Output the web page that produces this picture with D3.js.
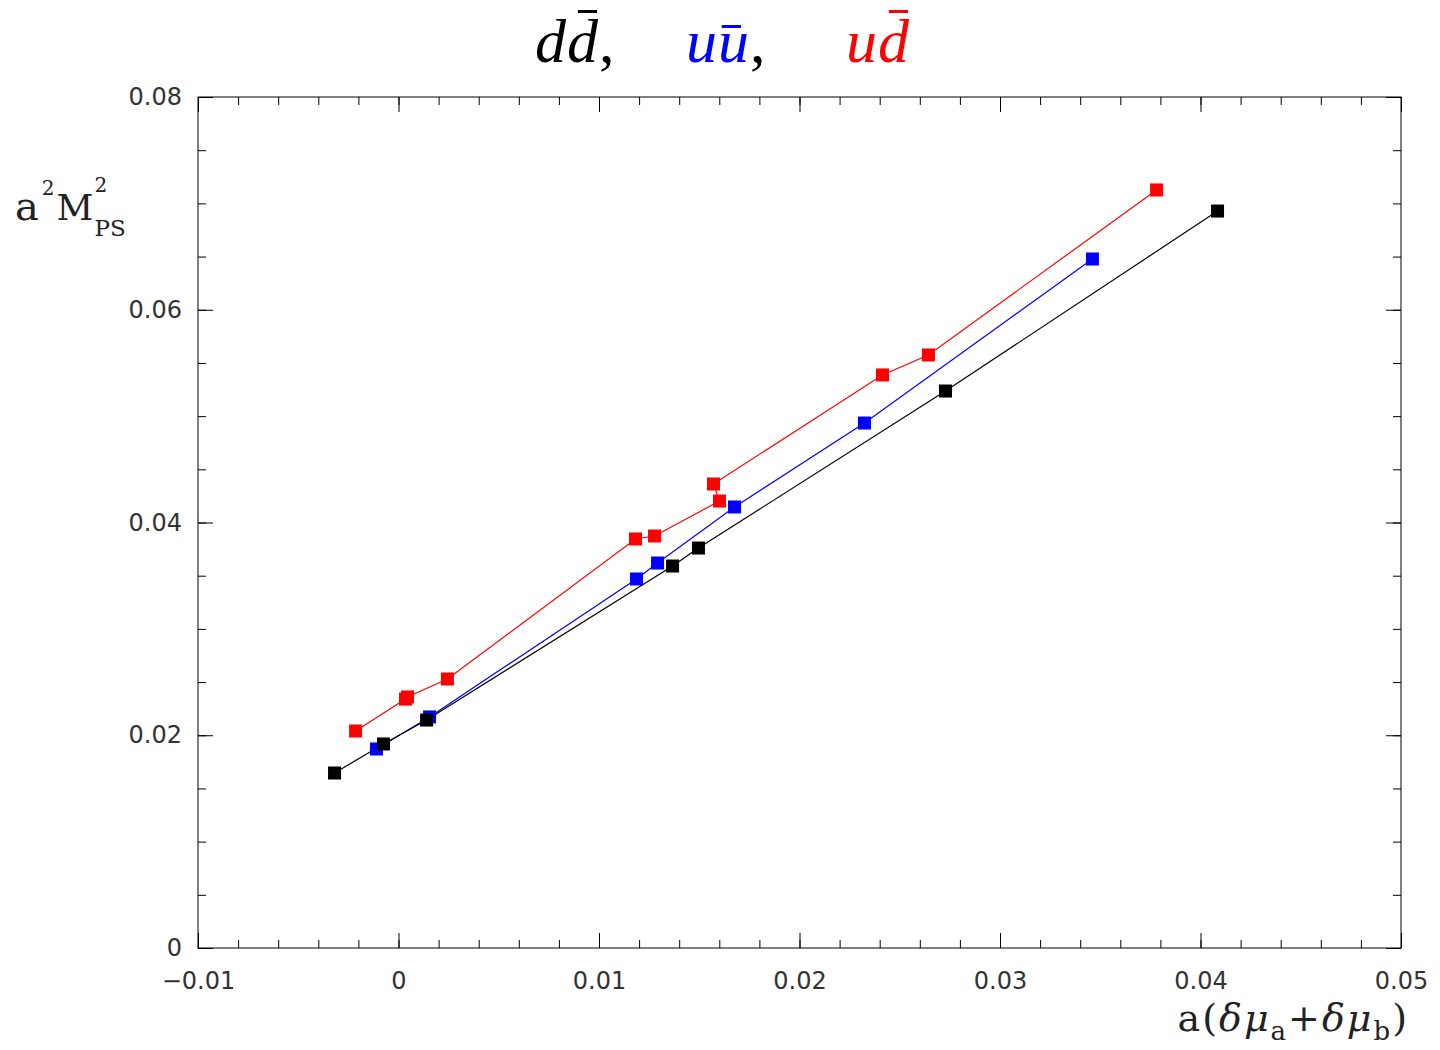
<!DOCTYPE html>
<html>
<head>
<meta charset="utf-8">
<script src="https://cdn.jsdelivr.net/npm/d3@7"></script>
<style>
  body { margin: 0; background: #fff; }
  .tick text { font-family: "DejaVu Sans", sans-serif; font-size: 24px; fill: #333; }
</style>
</head>
<body>
<script>
// values
const ddbarX = [-0.00319, -0.00075, 0.0014, 0.01367, 0.01496, 0.02728, 0.04085];
const ddbarY = [0.01645, 0.01918, 0.02143, 0.03591, 0.03760, 0.05236, 0.06928];

const uubarX = [-0.0011, 0.00155, 0.01187, 0.01292, 0.01676, 0.02324, 0.03461];
const uubarY = [0.01871, 0.02172, 0.03469, 0.03619, 0.04146, 0.04935, 0.06477];

const udbarX = [-0.00214, 0.00035, 0.00045, 0.00244, 0.01182, 0.01277, 0.01601, 0.01571, 0.02414, 0.02643, 0.03781];
const udbarY = [0.0204, 0.0234, 0.0236, 0.02529, 0.03845, 0.03873, 0.04202, 0.04362, 0.05387, 0.05575, 0.07126];

const xMajorTicks = [-0.01, 0, 0.01, 0.02, 0.03, 0.04, 0.05];
const yMajorTicks = [0, 0.02, 0.04, 0.06, 0.08];

const width = 1440, height = 1050;
const margin = { top: 97, right: 39, bottom: 102, left: 198 };

const svg = d3.select("body").append("svg")
    .attr("width", width)
    .attr("height", height);

const x = d3.scaleLinear()
    .domain([-0.01, 0.05])
    .range([margin.left, width - margin.right]);
const y = d3.scaleLinear()
    .domain([0, 0.08])
    .range([height - margin.bottom, margin.top]);

const xMinor = d3.range(-0.01, 0.0501, 0.002).map(v => +v.toFixed(4));
const yMinor = d3.range(0, 0.0801, 0.005).map(v => +v.toFixed(4));

const fmtX = d => d === 0 ? "0" : d3.format(".2f")(d).replace("-", "\u2212");
const fmtY = d => d === 0 ? "0" : d3.format(".2f")(d);

// ticks pointing inward on all four sides
function tickGroup(axis, transform) {
    const g = svg.append("g").attr("transform", transform).call(axis);
    g.select(".domain").remove();
    g.selectAll(".tick line").attr("stroke", "#000").attr("stroke-width", 1);
    return g;
}

const bottomY = height - margin.bottom, topY = margin.top;
const leftX = margin.left, rightX = width - margin.right;

tickGroup(d3.axisBottom(x).tickValues(xMinor).tickSize(-8).tickFormat(""), `translate(0,${bottomY})`);
tickGroup(d3.axisBottom(x).tickValues(xMajorTicks).tickSize(-15).tickPadding(24).tickFormat(fmtX), `translate(0,${bottomY})`);
tickGroup(d3.axisTop(x).tickValues(xMinor).tickSize(-8).tickFormat(""), `translate(0,${topY})`);
tickGroup(d3.axisTop(x).tickValues(xMajorTicks).tickSize(-15).tickFormat(""), `translate(0,${topY})`);

tickGroup(d3.axisLeft(y).tickValues(yMinor).tickSize(-8).tickFormat(""), `translate(${leftX},0)`);
tickGroup(d3.axisLeft(y).tickValues(yMajorTicks).tickSize(-15).tickPadding(16).tickFormat(fmtY), `translate(${leftX},0)`);
tickGroup(d3.axisRight(y).tickValues(yMinor).tickSize(-8).tickFormat(""), `translate(${rightX},0)`);
tickGroup(d3.axisRight(y).tickValues(yMajorTicks).tickSize(-15).tickFormat(""), `translate(${rightX},0)`);

// frame
svg.append("rect")
    .attr("x", leftX).attr("y", topY)
    .attr("width", rightX - leftX).attr("height", bottomY - topY)
    .attr("fill", "none").attr("stroke", "#000").attr("stroke-width", 1);

// series
const series = [
    { xs: udbarX, ys: udbarY, color: "#ff0000" },
    { xs: uubarX, ys: uubarY, color: "#0000ff" },
    { xs: ddbarX, ys: ddbarY, color: "#000000" }
];

const line = d3.line().x(d => x(d[0])).y(d => y(d[1]));
const sq = 13;

series.forEach(s => {
    const pts = s.xs.map((v, i) => [v, s.ys[i]]);
    svg.append("path")
        .datum(pts)
        .attr("fill", "none")
        .attr("stroke", s.color)
        .attr("stroke-width", 1.2)
        .attr("d", line);
});
series.forEach(s => {
    const pts = s.xs.map((v, i) => [v, s.ys[i]]);
    svg.append("g").selectAll("rect")
        .data(pts)
        .join("rect")
        .attr("x", d => x(d[0]) - sq / 2)
        .attr("y", d => y(d[1]) - sq / 2)
        .attr("width", sq).attr("height", sq)
        .attr("fill", s.color);
});

// y axis label a^2 M^2_PS, laid out piece by piece
const yl = svg.append("g").attr("font-family", "DejaVu Serif, serif").attr("fill", "#222");
let lx = 15;
const put = (txt, size, yy) => {
    const t = yl.append("text").attr("x", lx).attr("y", yy).attr("font-size", size).text(txt);
    return t.node().getComputedTextLength();
};
lx += put("a", 40, 220) + 3;
lx += put("2", 20, 195) + 2;
lx += put("M", 36, 220) + 1;
put("2", 20, 192);
put("PS", 23, 236);

// x axis label a(δμ_a+δμ_b)
const xl = svg.append("text")
    .attr("x", 1409).attr("y", 1031)
    .attr("text-anchor", "end")
    .attr("font-family", "DejaVu Serif, serif")
    .attr("font-size", 38)
    .attr("letter-spacing", 2)
    .attr("fill", "#222");
xl.append("tspan").text("a(");
xl.append("tspan").attr("font-style", "italic").text("δμ");
xl.append("tspan").attr("font-size", 26).attr("dy", 9).text("a");
xl.append("tspan").attr("dy", -9).text("+");
xl.append("tspan").attr("font-style", "italic").text("δμ");
xl.append("tspan").attr("font-size", 26).attr("dy", 9).text("b");
xl.append("tspan").attr("dy", -9).text(")");

// title: d dbar,  u ubar,  u dbar
const titleParts = [
    { start: 535, first: "d", second: "d", comma: ",", color: "#000", barTop: 10 },
    { start: 686, first: "u", second: "u", comma: ",", color: "#0000ff", barTop: 25 },
    { start: 846, first: "u", second: "d", comma: "", color: "#ff0000", barTop: 10 }
];
const title = svg.append("g")
    .attr("font-family", "Liberation Serif, serif")
    .attr("font-style", "italic")
    .attr("font-size", 62);
titleParts.forEach(p => {
    let cx = p.start;
    const t1 = title.append("text").attr("x", cx).attr("y", 62).attr("fill", p.color).text(p.first);
    cx += t1.node().getComputedTextLength() + 1;
    const t2 = title.append("text").attr("x", cx).attr("y", 62).attr("fill", p.color).text(p.second);
    const w2 = t2.node().getComputedTextLength();
    const off = p.second === "d" ? w2 * 0.35 : w2 * 0.12;
    title.append("rect")
        .attr("x", cx + off).attr("y", p.barTop)
        .attr("width", w2 * 0.62).attr("height", 3)
        .attr("fill", p.color);
    cx += w2 + 1;
    if (p.comma) {
        title.append("text").attr("x", cx).attr("y", 62).attr("fill", "#000").attr("font-style", "normal").text(p.comma);
    }
});
</script>
</body>
</html>
